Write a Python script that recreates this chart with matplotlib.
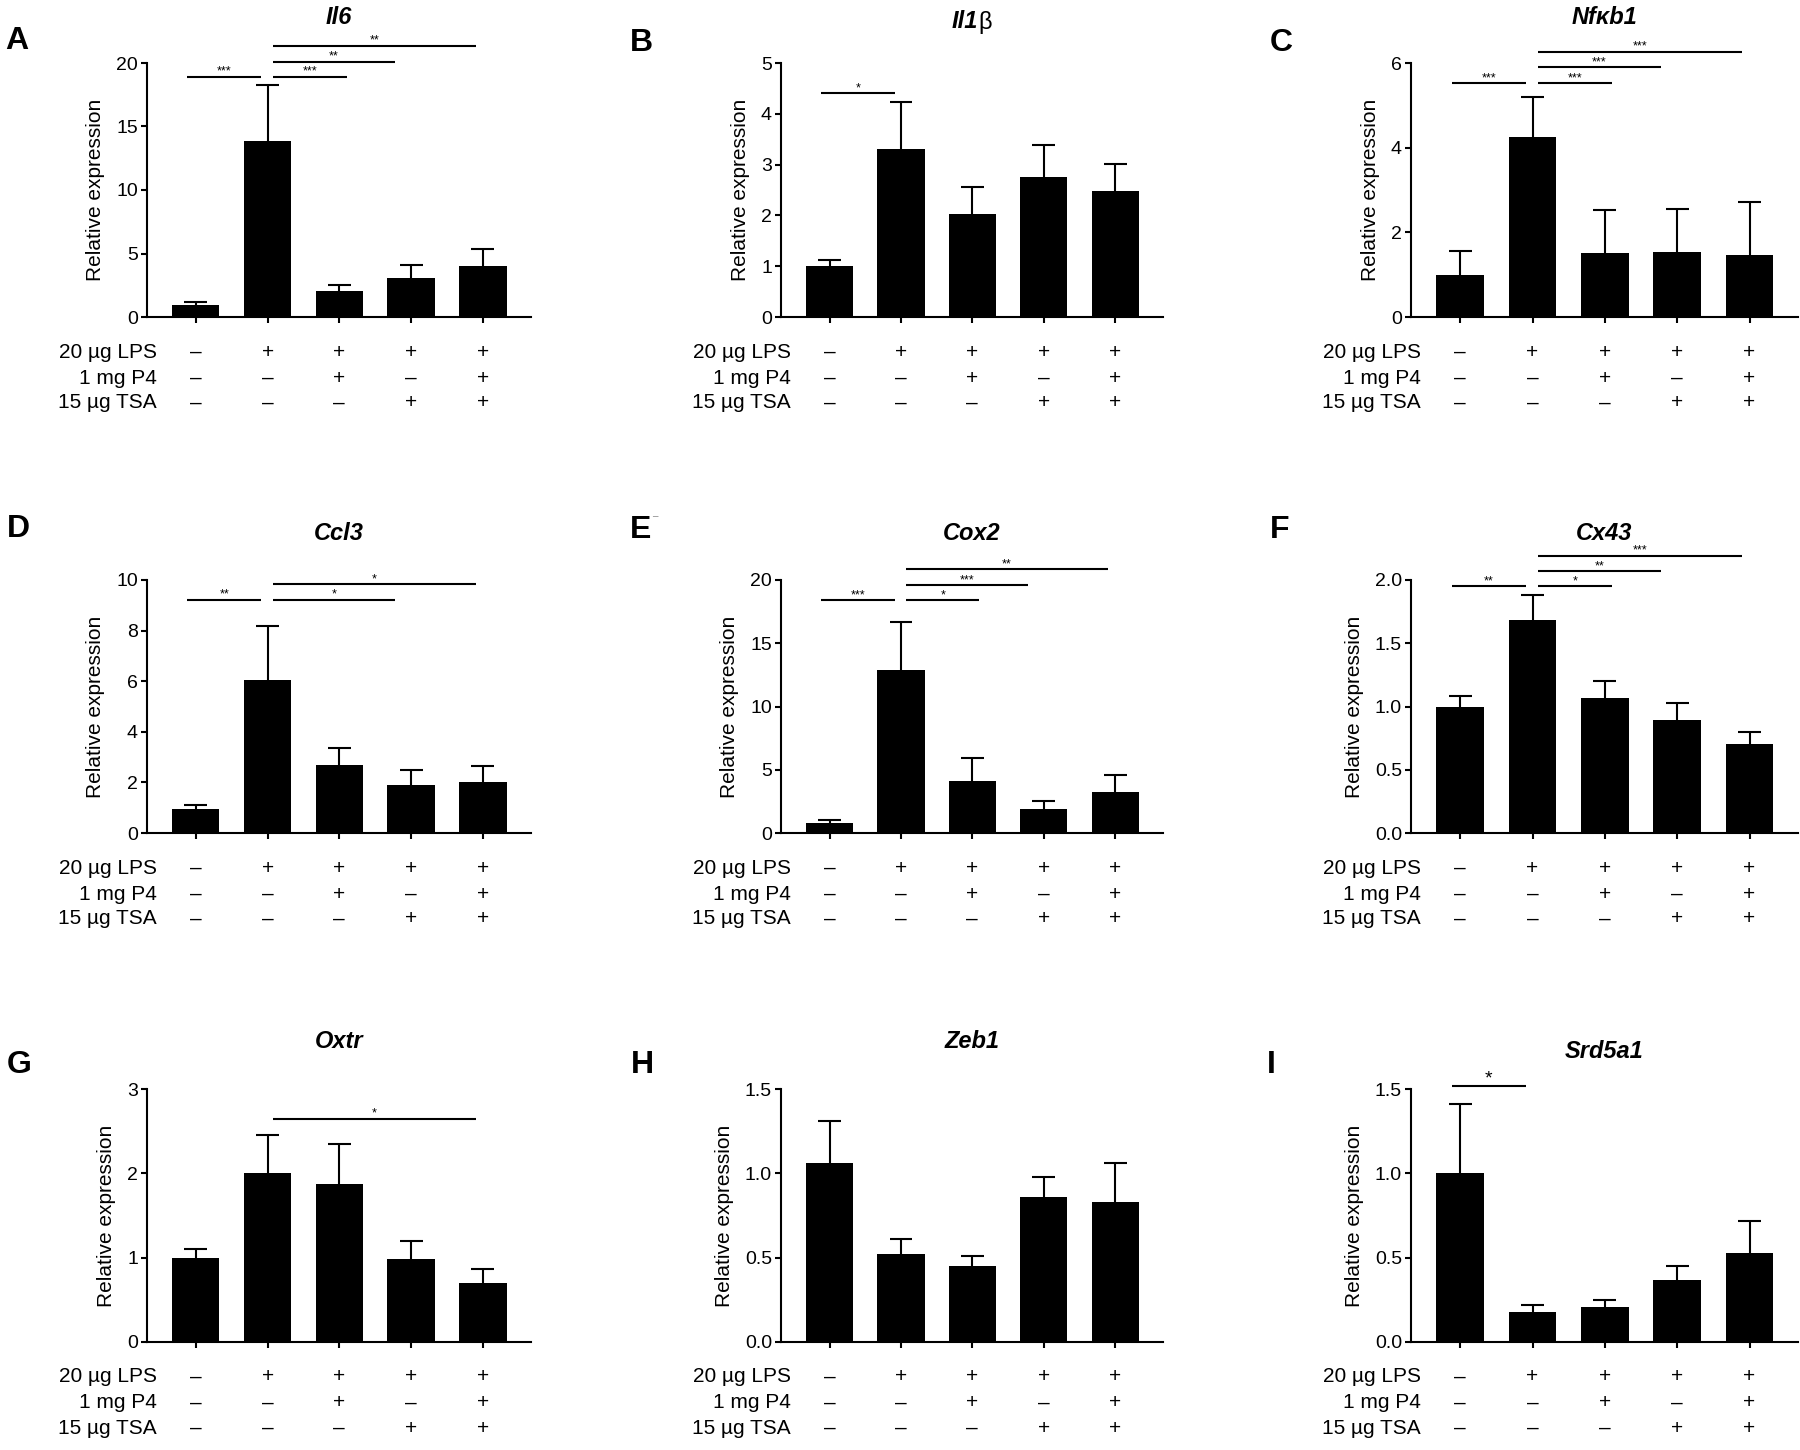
import matplotlib
matplotlib.use('Agg')
import matplotlib.pyplot as plt
import matplotlib.ticker as mticker
import numpy as np

plt.rcParams['font.family'] = ['Liberation Sans', 'DejaVu Sans']

# ---------------- data ----------------
genes = ['Il6', 'Il1', 'Nfκb1', 'Ccl3', 'Cox2', 'Cx43', 'Oxtr', 'Zeb1', 'Srd5a1']
panel_letters = ['A', 'B', 'C', 'D', 'E', 'F', 'G', 'H', 'I']
treatment_labels = ['20 µg LPS', '1 mg P4', '15 µg TSA']
lps_row = ['–', '+', '+', '+', '+']
p4_row = ['–', '–', '+', '–', '+']
tsa_row = ['–', '–', '–', '+', '+']
ylabel = 'Relative expression'

il6_mean = [0.92, 13.85, 2.02, 3.07, 4.04]
il6_sem = [0.23, 4.40, 0.53, 1.00, 1.34]
il1b_mean = [1.00, 3.30, 2.02, 2.76, 2.49]
il1b_sem = [0.13, 0.93, 0.53, 0.62, 0.53]
nfkb1_mean = [1.00, 4.26, 1.51, 1.53, 1.47]
nfkb1_sem = [0.55, 0.93, 1.02, 1.01, 1.25]
ccl3_mean = [0.96, 6.05, 2.70, 1.91, 2.00]
ccl3_sem = [0.16, 2.15, 0.66, 0.59, 0.66]
cox2_mean = [0.82, 12.88, 4.15, 1.93, 3.25]
cox2_sem = [0.18, 3.82, 1.75, 0.57, 1.35]
cx43_mean = [1.00, 1.68, 1.07, 0.89, 0.70]
cx43_sem = [0.085, 0.20, 0.13, 0.14, 0.10]
oxtr_mean = [1.00, 2.00, 1.87, 0.98, 0.70]
oxtr_sem = [0.10, 0.45, 0.48, 0.22, 0.17]
zeb1_mean = [1.06, 0.52, 0.45, 0.86, 0.83]
zeb1_sem = [0.25, 0.09, 0.06, 0.12, 0.23]
srd5a1_mean = [1.00, 0.18, 0.21, 0.37, 0.53]
srd5a1_sem = [0.41, 0.04, 0.04, 0.08, 0.19]

yticks = [
    [0, 5, 10, 15, 20],
    [0, 1, 2, 3, 4, 5],
    [0, 2, 4, 6],
    [0, 2, 4, 6, 8, 10],
    [0, 5, 10, 15, 20],
    [0.0, 0.5, 1.0, 1.5, 2.0],
    [0, 1, 2, 3],
    [0.0, 0.5, 1.0, 1.5],
    [0.0, 0.5, 1.0, 1.5],
]

# significance comparisons: (group i, group j, height, label)
sig_il6 = [(0, 1, 18.9, '***'), (1, 2, 18.9, '***'), (1, 3, 20.1, '**'), (1, 4, 21.35, '**')]
sig_il1b = [(0, 1, 4.4, '*')]
sig_nfkb1 = [(0, 1, 5.52, '***'), (1, 2, 5.52, '***'), (1, 3, 5.9, '***'), (1, 4, 6.27, '***')]
sig_ccl3 = [(0, 1, 9.22, '**'), (1, 3, 9.22, '*'), (1, 4, 9.84, '*')]
sig_cox2 = [(0, 1, 18.4, '***'), (1, 2, 18.4, '*'), (1, 3, 19.6, '***'), (1, 4, 20.85, '**')]
sig_cx43 = [(0, 1, 1.95, '**'), (1, 2, 1.95, '*'), (1, 3, 2.07, '**'), (1, 4, 2.19, '***')]
sig_oxtr = [(1, 4, 2.65, '*')]
sig_zeb1 = []
sig_srd5a1 = [(0, 1, 1.52, '*')]

means = [il6_mean, il1b_mean, nfkb1_mean, ccl3_mean, cox2_mean, cx43_mean,
         oxtr_mean, zeb1_mean, srd5a1_mean]
sems = [il6_sem, il1b_sem, nfkb1_sem, ccl3_sem, cox2_sem, cx43_sem,
        oxtr_sem, zeb1_sem, srd5a1_sem]
sigs = [sig_il6, sig_il1b, sig_nfkb1, sig_ccl3, sig_cox2, sig_cx43,
        sig_oxtr, sig_zeb1, sig_srd5a1]

# ---------------- layout / style ----------------
W, H = 1800, 1450
DPI = 100
fig = plt.figure(figsize=(W / DPI, H / DPI), dpi=DPI)

col_x = [(147, 531), (781, 1163), (1411, 1798)]
row_y = [(63, 317), (580, 833), (1089, 1342)]
letter_pos = [(5, 41), (630, 43), (1270, 43),
              (7, 529), (630, 530), (1270, 530),
              (7, 1065), (631, 1065), (1267, 1065)]
title_off_px = [45, 41, 46, 47, 47, 47, 47, 47, 37]
star_size = [9, 9, 9, 9, 9, 9, 9, 9, 14]
row_off_px = [35, 61, 86]
px2pt = 72.0 / DPI
start_off = {0: -0.12, 1: 0.07}
end_off = {1: -0.09, 2: 0.1, 3: -0.22, 4: -0.1}

LW = 1.5
BAR_W = 0.66
CAP_HALF = 0.16
x = np.arange(5)

for k in range(9):
    r, c = divmod(k, 3)
    x0, x1 = col_x[c]
    yt, yb = row_y[r]
    ax = fig.add_axes([x0 / W, 1 - yb / H, (x1 - x0) / W, (yb - yt) / H])

    m = np.array(means[k])
    s = np.array(sems[k])
    ax.bar(x, m, width=BAR_W, color='black', linewidth=0, zorder=2)
    # upper-only error bars with caps
    ax.vlines(x, m, m + s, colors='black', linewidth=LW, zorder=3)
    ax.hlines(m + s, x - CAP_HALF, x + CAP_HALF, colors='black', linewidth=LW, zorder=3)

    ax.set_xlim(-0.68, 4.67)
    ax.set_ylim(yticks[k][0], yticks[k][-1])
    ax.set_yticks(yticks[k])
    if isinstance(yticks[k][1], float):
        ax.yaxis.set_major_formatter(mticker.FormatStrFormatter('%.1f'))
    ax.set_xticks(x)
    ax.set_xticklabels([''] * 5)

    for side in ['top', 'right']:
        ax.spines[side].set_visible(False)
    for side in ['left', 'bottom']:
        ax.spines[side].set_linewidth(LW)
    ax.tick_params(axis='both', direction='out', length=4.5, width=LW,
                   labelsize=14, pad=2)
    ax.set_ylabel(ylabel, fontsize=15, labelpad=8)
    ax.patch.set_visible(False)

    # gene title
    toff = title_off_px[k] * px2pt
    if genes[k] == 'Il1':
        ax.annotate('Il1', xy=(0.5, 1), xycoords='axes fraction',
                    xytext=(4, toff), textcoords='offset points', ha='right',
                    va='center', fontsize=17, fontweight='bold', fontstyle='italic')
        ax.annotate('β', xy=(0.5, 1), xycoords='axes fraction',
                    xytext=(4.5, toff), textcoords='offset points', ha='left',
                    va='center', fontsize=17)
    else:
        ax.annotate(genes[k], xy=(0.5, 1), xycoords='axes fraction',
                    xytext=(0, toff), textcoords='offset points', ha='center',
                    va='center', fontsize=17, fontweight='bold', fontstyle='italic')

    # significance bars
    for (i, j, h, lab) in sigs[k]:
        xa = i + start_off[i]
        xb = j + end_off[j]
        ax.plot([xa, xb], [h, h], color='black', lw=LW, clip_on=False,
                solid_capstyle='butt', zorder=4)
        ax.annotate(lab, xy=((xa + xb) / 2, h), xycoords='data',
                    xytext=(0, 1.5), textcoords='offset points', ha='center',
                    va='baseline', fontsize=star_size[k], annotation_clip=False)

    # treatment table
    for row_i, (lab, vals) in enumerate(zip(treatment_labels, [lps_row, p4_row, tsa_row])):
        yoff = -row_off_px[row_i] * px2pt
        ax.annotate(lab, xy=(0, 0), xycoords='axes fraction',
                    xytext=(10 * px2pt, yoff), textcoords='offset points',
                    ha='right', va='center', fontsize=15, annotation_clip=False)
        for xi, v in zip(x, vals):
            ax.annotate(v, xy=(xi, 0), xycoords=('data', 'axes fraction'),
                        xytext=(0, yoff), textcoords='offset points',
                        ha='center', va='center', fontsize=15, annotation_clip=False)

    lx, ly = letter_pos[k]
    fig.text(lx / W, 1 - ly / H, panel_letters[k], ha='left', va='center',
             fontsize=23, fontweight='bold')

# small stray mark next to panel letter E in the original figure
fig.text(652 / W, 1 - 522 / H, '¯', ha='left', va='center', fontsize=7, color='#888888')

fig.savefig('out.png', dpi=DPI, facecolor='white')
